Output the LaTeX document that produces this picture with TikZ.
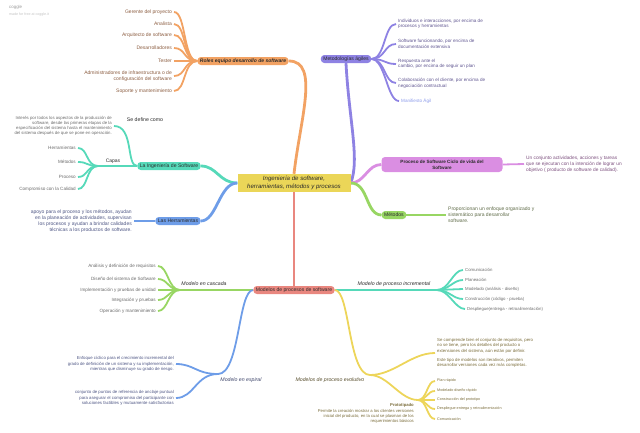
\documentclass[tikz,border=0pt]{standalone}
\usepackage{fontspec}
\setmainfont{Liberation Sans}
\usetikzlibrary{positioning, backgrounds}
\definecolor{hubfill}{HTML}{EBD658}
\definecolor{yellowline}{HTML}{EDD55A}
\definecolor{orangeline}{HTML}{F2A263}
\definecolor{purpleline}{HTML}{8E82E3}
\definecolor{tealline}{HTML}{56D9B9}
\definecolor{blueline}{HTML}{6E9DE8}
\definecolor{pinkline}{HTML}{DA8EE2}
\definecolor{greenline}{HTML}{98D663}
\definecolor{redline}{HTML}{E9877F}
\definecolor{orangetext}{HTML}{8C5E42}
\definecolor{purpletext}{HTML}{5F5590}
\definecolor{manifiestotext}{HTML}{8C9BEA}
\definecolor{greytext}{HTML}{6B6B6B}
\definecolor{bluetext}{HTML}{4E5684}
\definecolor{pinktext}{HTML}{7C4F7E}
\definecolor{greentext}{HTML}{5F6B48}
\definecolor{olivetext}{HTML}{7A6C3A}
\definecolor{darktext}{HTML}{2B2B2B}
\definecolor{marktext}{HTML}{9A9A9A}

\begin{document}
\begin{tikzpicture}[
    x=1pt, y=-1pt,
    line cap=round,
    hub/.style={rectangle, fill=hubfill, text=darktext, minimum width=113pt, minimum height=18pt, inner sep=1pt, align=center, font=\fontsize{6.1}{7.3}\selectfont\itshape},
    topic/.style={rectangle, rounded corners=3.5pt, text=darktext, minimum height=8pt, inner xsep=2.5pt, inner ysep=1pt, align=center, font=\fontsize{5.1}{6}\selectfont},
    tag/.style={inner sep=1pt, text=darktext, font=\fontsize{5.2}{6}\selectfont\itshape},
    leaf_r/.style={anchor=east, align=right, inner sep=2pt},
    leaf_l/.style={anchor=west, align=left, inner sep=2pt},
    fs_big/.style={font=\fontsize{5}{6}\selectfont},
    fs_mid/.style={font=\fontsize{4.6}{5.6}\selectfont},
    fs_small/.style={font=\fontsize{4.3}{5.2}\selectfont},
    fs_tiny/.style={font=\fontsize{3.7}{4.6}\selectfont},
    branch/.style={line width=2.8pt},
    twig/.style={line width=1.8pt}
]
    \useasboundingbox (0,0) rectangle (640,432);

    % watermark
    \node[anchor=west, inner sep=0pt, text=marktext, font=\fontsize{4.4}{5}\selectfont] (mark) at (9,7) {coggle};
    \node[anchor=west, inner sep=0pt, text=marktext!60, font=\fontsize{3.6}{4}\selectfont] (markline) at (9,15) {made for free at coggle.it};

    % central topic
    \node[hub] (core) at (294,183) {Ingeniería de software,\\herramientas, métodos y procesos};

    % main branches
    \node[topic, fill=orangeline, font=\fontsize{5}{6}\selectfont\bfseries\itshape] (roles) at (243,61) {Roles equipo desarrollo de software};
    \node[topic, fill=purpleline] (agiles) at (346,59) {Metodologías ágiles};
    \node[topic, fill=tealline] (ingsw) at (169,166) {La Ingeniería de Software};
    \node[topic, fill=blueline] (herram) at (178,221) {Las Herramientas};
    \node[topic, fill=pinkline, font=\fontsize{4.6}{5.8}\selectfont\bfseries, minimum width=121pt, minimum height=15pt] (ciclo) at (442,164.5) {Proceso de Software Ciclo de vida del\\Software};
    \node[topic, fill=greenline] (metodos) at (394,215) {Métodos};
    \node[topic, fill=redline] (modelos) at (294,290) {Modelos de procesos de software};

    % roles
    \node[leaf_r, fs_big, text=orangetext] (gerente) at (174,12) {Gerente del proyecto};
    \node[leaf_r, fs_big, text=orangetext] (analista) at (174,24) {Analista};
    \node[leaf_r, fs_big, text=orangetext] (arquitecto) at (174,35) {Arquitecto de software};
    \node[leaf_r, fs_big, text=orangetext] (desarr) at (174,48) {Desarrolladores};
    \node[leaf_r, fs_big, text=orangetext] (tester) at (174,61) {Tester};
    \node[leaf_r, fs_big, text=orangetext] (admin) at (174,76) {Administradores de infraestructura o de\\configuración del software};
    \node[leaf_r, fs_big, text=orangetext] (soporte) at (174,91) {Soporte y mantenimiento};

    % metodologias agiles
    \node[leaf_l, fs_mid, text=purpletext] (indiv) at (396,24) {Individuos e interacciones, por encima de\\procesos y herramientas};
    \node[leaf_l, fs_mid, text=purpletext] (softfun) at (396,44) {Software funcionando, por encima de\\documentación extensiva};
    \node[leaf_l, fs_mid, text=purpletext] (respuesta) at (396,64) {Respuesta ante el\\cambio, por encima de seguir un plan};
    \node[leaf_l, fs_mid, text=purpletext] (colab) at (396,83) {Colaboración con el cliente, por encima de\\negociación contractual};
    \node[leaf_l, fs_mid, text=manifiestotext] (manifiesto) at (399,101) {Manifiesto Ágil};

    % ingenieria de software
    \coordinate (capas_j) at (98,166);
    \node[leaf_r, fs_small, text=greytext] (interes) at (114,126) {Interés por todos los aspectos de la producción de\\software, desde las primeras etapas de la\\especificación del sistema hasta el mantenimiento\\del sistema después de que se pone en operación.};
    \node[tag, font=\fontsize{5.2}{6}\selectfont] (define) at (145,120) {Se define como};
    \node[tag, font=\fontsize{5}{6}\selectfont] (capas) at (113,161) {Capas};
    \node[leaf_r, fs_mid, text=greytext] (herr2) at (78,148) {Herramientas};
    \node[leaf_r, fs_mid, text=greytext] (metod2) at (78,162) {Métodos};
    \node[leaf_r, fs_mid, text=greytext] (proceso2) at (78,177) {Proceso};
    \node[leaf_r, fs_mid, text=greytext] (compromiso) at (78,189) {Compromiso con la Calidad};

    % herramientas, ciclo, metodos
    \node[leaf_r, fs_big, text=bluetext] (apoyo) at (134,221) {apoyo para el proceso y los métodos, ayudan\\en la planeación de actividades, supervisan\\los procesos y ayudan a brindar calidades\\técnicas a los productos de software.};
    \node[leaf_l, fs_mid, text=pinktext, font=\fontsize{4.8}{6}\selectfont] (conjunto) at (524,164) {Un conjunto actividades, acciones y tareas\\que se ejecutan con la intención de lograr un\\objetivo ( producto de software de calidad).};
    \node[leaf_l, text=greentext, font=\fontsize{5}{6}\selectfont] (proporc) at (446,215) {Proporcionan un enfoque organizado y\\sistemático para desarrollar\\software.};

    % modelo en cascada
    \coordinate (casc_j) at (180,290);
    \node[tag] (cascada) at (204,284) {Modelo en cascada};
    \node[leaf_r, fs_mid, text=greytext] (analisis) at (158,266) {Análisis y definición de requisitos};
    \node[leaf_r, fs_mid, text=greytext] (diseno) at (158,279) {Diseño del sistema de Software};
    \node[leaf_r, fs_mid, text=greytext] (implem) at (158,290) {Implementación y pruebas de unidad};
    \node[leaf_r, fs_mid, text=greytext] (integ) at (158,300) {Integración y pruebas};
    \node[leaf_r, fs_mid, text=greytext] (operac) at (158,311) {Operación y mantenimiento};

    % modelo incremental
    \coordinate (inc_j) at (437,290);
    \node[tag] (increm) at (394,284) {Modelo de proceso incremental};
    \node[leaf_l, fs_small, text=greytext] (comunic) at (463,270) {Comunicación};
    \node[leaf_l, fs_small, text=greytext] (planea) at (463,280) {Planeación};
    \node[leaf_l, fs_small, text=greytext] (modelado) at (463,289) {Modelado (análisis - diseño)};
    \node[leaf_l, fs_small, text=greytext] (construc) at (463,299) {Construcción (código - prueba)};
    \node[leaf_l, fs_small, text=greytext] (desplieg) at (465,309) {Despliegue(entrega - retroalimentación)};

    % modelo en espiral
    \coordinate (esp_j) at (218,374);
    \node[tag, text=bluetext!80!black] (espiral) at (241,380) {Modelo en espiral};
    \node[leaf_r, fs_small, text=bluetext] (enfoque) at (176,364) {Enfoque cíclico para el crecimiento incremental del\\grado de definición de un sistema y su implementación,\\mientras que disminuye su grado de riesgo.};
    \node[leaf_r, fs_small, text=bluetext] (anclaje) at (176,398) {conjunto de puntos de referencia de anclaje puntual\\para asegurar el compromiso del participante con\\soluciones factibles y mutuamente satisfactorias};

    % modelos evolutivos
    \coordinate (evo_j) at (370,375);
    \coordinate (proto_j) at (418,400);
    \node[tag, text=olivetext!70!black] (evolutivo) at (330,380) {Modelos de proceso evolutivo};
    \node[leaf_l, fs_small, text=olivetext] (comprende) at (435,353) {Se comprende bien el conjunto de requisitos, pero\\no se tiene, pero los detalles del producto o\\extensiones del sistema, aún están por definir.\\[4pt]Este tipo de modelos son iterativos, permiten\\desarrollar versiones cada vez más completas.};
    \node[leaf_r, text=olivetext, font=\fontsize{4.2}{5.1}\selectfont] (prototipado) at (416,413.5) {\textbf{Prototipado}\\Permite la creación mostrar a los clientes versiones\\inicial del producto, en la cual se plasman de los\\requerimientos básicos};
    \node[leaf_l, fs_tiny, text=olivetext] (plan) at (435,381) {Plan rápido};
    \node[leaf_l, fs_tiny, text=olivetext] (modrapido) at (435,391) {Modelado diseño rápido};
    \node[leaf_l, fs_tiny, text=olivetext] (construproto) at (435,400) {Construcción del prototipo};
    \node[leaf_l, fs_tiny, text=olivetext] (despliproto) at (435,409) {Despliegue entrega y retroalimentación};
    \node[leaf_l, fs_tiny, text=olivetext] (comunproto) at (435,419) {Comunicación};

    \begin{scope}[on background layer]
        % from the central topic
        \draw[branch, orangeline] (core.north) .. controls (300,120) and (320,61) .. (roles.east);
        \draw[branch, purpleline] (agiles.south) .. controls (349,120) and (360,160) .. (core.east);
        \draw[branch, pinkline] (core.east) .. controls +(14,0) and +(-14,0) .. (ciclo.west);
        \draw[branch, greenline] (core.east) .. controls +(18,0) and +(-16,0) .. (metodos.west);
        \draw[branch, tealline] (core.west) .. controls +(-18,0) and +(16,0) .. (ingsw.east);
        \draw[branch, blueline] (core.west) .. controls +(-18,0) and +(16,0) .. (herram.east);
        \draw[branch, redline] (core.south) -- (modelos.north);

        % roles
        \draw[twig, orangeline] (roles.west) .. controls +(-14,0) and +(12,0) .. (gerente.east);
        \draw[twig, orangeline] (roles.west) .. controls +(-14,0) and +(12,0) .. (analista.east);
        \draw[twig, orangeline] (roles.west) .. controls +(-14,0) and +(12,0) .. (arquitecto.east);
        \draw[twig, orangeline] (roles.west) .. controls +(-14,0) and +(12,0) .. (desarr.east);
        \draw[twig, orangeline] (roles.west) -- (tester.east);
        \draw[twig, orangeline] (roles.west) .. controls +(-14,0) and +(12,0) .. (admin.east);
        \draw[twig, orangeline] (roles.west) .. controls +(-14,0) and +(12,0) .. (soporte.east);

        % agiles
        \draw[twig, purpleline] (agiles.east) .. controls +(14,0) and +(-12,0) .. (indiv.west);
        \draw[twig, purpleline] (agiles.east) .. controls +(14,0) and +(-12,0) .. (softfun.west);
        \draw[twig, purpleline] (agiles.east) .. controls +(14,0) and +(-12,0) .. (respuesta.west);
        \draw[twig, purpleline] (agiles.east) .. controls +(14,0) and +(-12,0) .. (colab.west);
        \draw[twig, purpleline] (agiles.east) .. controls +(14,0) and +(-12,0) .. (manifiesto.west);

        % ingenieria de software
        \draw[twig, tealline] (ingsw.west) .. controls (126,166) and (134,126) .. (interes.east);
        \draw[twig, tealline] (ingsw.west) -- (capas_j);
        \draw[twig, tealline] (capas_j) .. controls +(-12,0) and +(10,0) .. (herr2.east);
        \draw[twig, tealline] (capas_j) .. controls +(-12,0) and +(10,0) .. (metod2.east);
        \draw[twig, tealline] (capas_j) .. controls +(-12,0) and +(10,0) .. (proceso2.east);
        \draw[twig, tealline] (capas_j) .. controls +(-12,0) and +(10,0) .. (compromiso.east);

        % herramientas, ciclo, metodos
        \draw[twig, blueline] (herram.west) -- (apoyo.east);
        \draw[twig, pinkline] (ciclo.east) -- (conjunto.west);
        \draw[twig, greenline] (metodos.east) -- (proporc.west);

        % modelos de procesos
        \draw[twig, greenline] (modelos.west) -- (casc_j);
        \draw[twig, greenline] (casc_j) .. controls +(-12,0) and +(10,0) .. (analisis.east);
        \draw[twig, greenline] (casc_j) .. controls +(-12,0) and +(10,0) .. (diseno.east);
        \draw[twig, greenline] (casc_j) -- (implem.east);
        \draw[twig, greenline] (casc_j) .. controls +(-12,0) and +(10,0) .. (integ.east);
        \draw[twig, greenline] (casc_j) .. controls +(-12,0) and +(10,0) .. (operac.east);

        \draw[twig, tealline] (modelos.east) -- (inc_j);
        \draw[twig, tealline] (inc_j) .. controls +(12,0) and +(-10,0) .. (comunic.west);
        \draw[twig, tealline] (inc_j) .. controls +(12,0) and +(-10,0) .. (planea.west);
        \draw[twig, tealline] (inc_j) -- (modelado.west);
        \draw[twig, tealline] (inc_j) .. controls +(12,0) and +(-10,0) .. (construc.west);
        \draw[twig, tealline] (inc_j) .. controls +(12,0) and +(-10,0) .. (desplieg.west);

        \draw[twig, blueline] (modelos.west) .. controls (238,290) and (240,374) .. (esp_j);
        \draw[twig, blueline] (esp_j) .. controls +(-22,0) and +(18,0) .. (enfoque.east);
        \draw[twig, blueline] (esp_j) .. controls +(-22,0) and +(18,0) .. (anclaje.east);

        \draw[twig, yellowline] (modelos.east) .. controls (350,290) and (348,375) .. (evo_j);
        \draw[twig, yellowline] (evo_j) .. controls +(24,0) and +(-24,0) .. (comprende.west);
        \draw[twig, yellowline] (evo_j) .. controls +(18,0) and +(-18,0) .. (proto_j);
        \draw[twig, yellowline] (proto_j) .. controls +(9,0) and +(-8,0) .. (plan.west);
        \draw[twig, yellowline] (proto_j) .. controls +(9,0) and +(-8,0) .. (modrapido.west);
        \draw[twig, yellowline] (proto_j) -- (construproto.west);
        \draw[twig, yellowline] (proto_j) .. controls +(9,0) and +(-8,0) .. (despliproto.west);
        \draw[twig, yellowline] (proto_j) .. controls +(9,0) and +(-8,0) .. (comunproto.west);
    \end{scope}

\end{tikzpicture}
\end{document}
